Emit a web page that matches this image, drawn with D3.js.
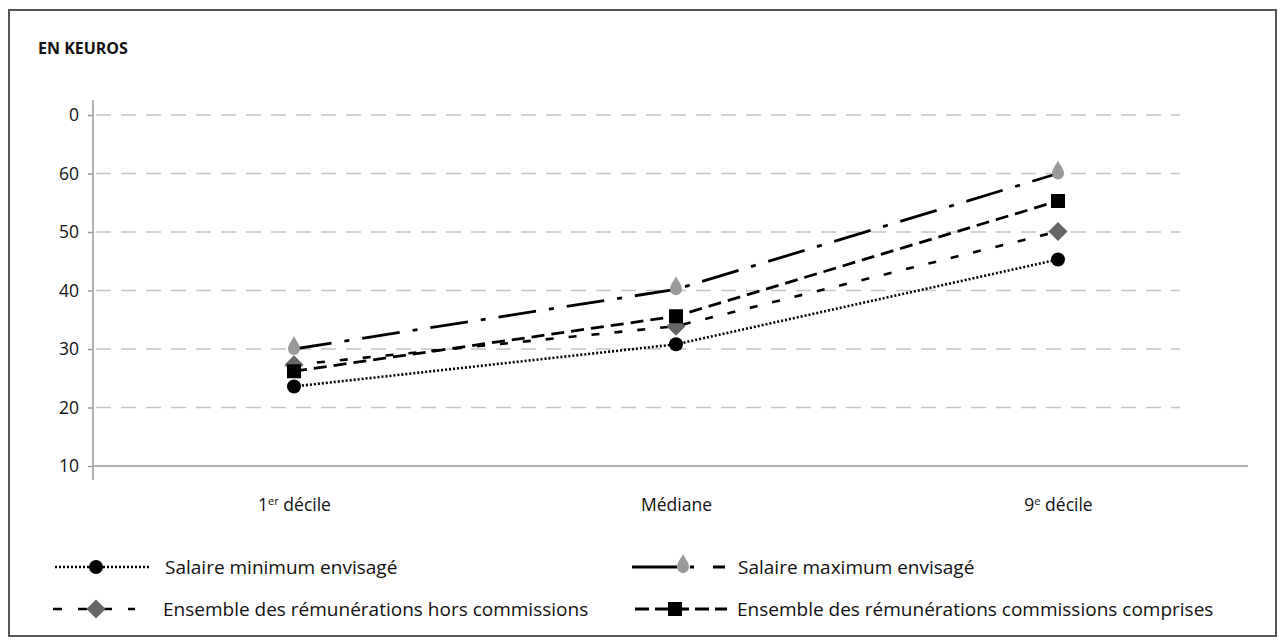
<!DOCTYPE html>
<html>
<head>
<meta charset="utf-8">
<script src="https://cdn.jsdelivr.net/npm/d3@7"></script>
<style>
  html, body { margin: 0; padding: 0; background: #fff; }
  svg { display: block; font-family: "Open Sans", Lato, sans-serif; }
</style>
</head>
<body>
<svg id="chart" width="1285" height="640"></svg>
<script>
// ---- data ----
const categories = ["1er décile", "Médiane", "9e décile"];
const catBase = ["1", "Médiane", "9"];
const catSup = ["er", "", "e"];
const catTail = [" décile", "", " décile"];

const yTicks = [10, 20, 30, 40, 50, 60, 70];
const yTickLabels = ["10", "20", "30", "40", "50", "60", "0"];

const salaireMin = [23.6, 30.8, 45.3];
const salaireMax = [30.0, 40.2, 60.0];
const horsCommissions = [27.3, 33.9, 50.1];
const commissionsComprises = [26.2, 35.6, 55.3];

const seriesNames = [
  "Salaire minimum envisagé",
  "Salaire maximum envisagé",
  "Ensemble des rémunérations hors commissions",
  "Ensemble des rémunérations commissions comprises"
];

// ---- setup ----
const svg = d3.select("#chart");
const FONT = "'Open Sans', Lato, sans-serif";
const TXT = "#111";

// frame
svg.append("rect").attr("x", 9).attr("y", 10).attr("width", 1267).attr("height", 626)
  .attr("fill", "#fff").attr("stroke", "#555").attr("stroke-width", 2);

svg.append("text").attr("x", 38).attr("y", 54).text("EN KEUROS")
  .attr("font-size", 16).attr("font-weight", "bold").attr("fill", TXT);

const x = d3.scalePoint().domain(categories).range([294, 1058]);
const y = d3.scaleLinear().domain([10, 70]).range([466, 115]);

const axisX0 = 93, axisX1 = 1248;

// gridlines
svg.append("g").selectAll("line").data(yTicks.filter(d => d !== 10)).join("line")
  .attr("x1", axisX0).attr("x2", 1180)
  .attr("y1", d => y(d)).attr("y2", d => y(d))
  .attr("stroke", "#c4c4c4").attr("stroke-width", 1.5)
  .attr("stroke-dasharray", "15,10").attr("stroke-dashoffset", -3);

// y axis
const yAxis = svg.append("g").attr("transform", `translate(${axisX0},0)`)
  .call(d3.axisLeft(y).tickValues(yTicks).tickFormat((d, i) => yTickLabels[i]).tickSize(5).tickPadding(9));
yAxis.select(".domain").remove();
yAxis.selectAll(".tick line").attr("stroke", "#999").attr("stroke-width", 1.5);
yAxis.selectAll(".tick text").attr("font-size", 17.5).attr("fill", TXT).attr("font-family", FONT);
svg.append("line").attr("x1", axisX0).attr("x2", axisX0).attr("y1", 100).attr("y2", 480)
  .attr("stroke", "#999").attr("stroke-width", 1.5);

// x axis
const xAxis = svg.append("g").attr("transform", `translate(0,${y(10)})`)
  .call(d3.axisBottom(x).tickSize(0).tickPadding(33));
xAxis.select(".domain").remove();
xAxis.selectAll(".tick text").attr("font-size", 17.5).attr("fill", TXT).attr("font-family", FONT)
  .each(function(d, i) {
    const t = d3.select(this);
    t.text(null);
    t.append("tspan").text(catBase[i]);
    if (catSup[i]) t.append("tspan").text(catSup[i]).attr("font-size", 11).attr("dy", -6);
    if (catTail[i]) t.append("tspan").text(catTail[i]).attr("dy", catSup[i] ? 6 : 0);
  });
svg.append("line").attr("x1", axisX0).attr("x2", axisX1).attr("y1", y(10)).attr("y2", y(10))
  .attr("stroke", "#999").attr("stroke-width", 1.5);

// marker shapes
const dropPath = "M0,-13 C1.5,-9 6,-5 6,0 A6,6 0 1,1 -6,0 C-6,-5 -1.5,-9 0,-13 Z";
function drawMarker(g, type, cx, cy) {
  if (type === "circle") {
    g.append("circle").attr("cx", cx).attr("cy", cy).attr("r", 7).attr("fill", "#000");
  } else if (type === "drop") {
    g.append("path").attr("d", dropPath).attr("transform", `translate(${cx},${cy})`).attr("fill", "#999");
  } else if (type === "diamond") {
    g.append("path").attr("d", "M0,-9.5 L9.5,0 L0,9.5 L-9.5,0 Z")
      .attr("transform", `translate(${cx},${cy})`).attr("fill", "#666");
  } else if (type === "square") {
    g.append("rect").attr("x", cx - 7).attr("y", cy - 7).attr("width", 14).attr("height", 14).attr("fill", "#000");
  }
}

const series = [
  { name: seriesNames[1], values: salaireMax, marker: "drop", dash: "38,13,5,13", width: 2.8 },
  { name: seriesNames[2], values: horsCommissions, marker: "diamond", dash: "8,15", width: 2.6 },
  { name: seriesNames[3], values: commissionsComprises, marker: "square", dash: "13,7", width: 2.8 },
  { name: seriesNames[0], values: salaireMin, marker: "circle", dash: "2,2", width: 2.6 }
];

const line = d3.line().x((d, i) => x(categories[i])).y(d => y(d));
const linesG = svg.append("g");
series.forEach(s => {
  linesG.append("path").datum(s.values).attr("d", line)
    .attr("fill", "none").attr("stroke", "#000").attr("stroke-width", s.width)
    .attr("stroke-dasharray", s.dash);
});
const markersG = svg.append("g");
series.forEach(s => {
  s.values.forEach((v, i) => drawMarker(markersG, s.marker, x(categories[i]), y(v)));
});

// legend
const lg = svg.append("g");
function legendText(xp, yp, txt) {
  lg.append("text").attr("x", xp).attr("y", yp + 6.5).text(txt)
    .attr("font-size", 19).attr("fill", TXT);
}
// row 1 left: minimum
lg.append("line").attr("x1", 55).attr("x2", 150).attr("y1", 567).attr("y2", 567)
  .attr("stroke", "#000").attr("stroke-width", 2.4).attr("stroke-dasharray", "2,2");
drawMarker(lg, "circle", 96, 567);
legendText(165, 567, seriesNames[0]);
// row 1 right: maximum
lg.append("line").attr("x1", 632).attr("x2", 725).attr("y1", 567).attr("y2", 567)
  .attr("stroke", "#000").attr("stroke-width", 2.8).attr("stroke-dasharray", "45,13,4,19,12");
drawMarker(lg, "drop", 683, 567);
legendText(738, 567, seriesNames[1]);
// row 2 left: hors commissions
lg.append("line").attr("x1", 53).attr("x2", 135).attr("y1", 609).attr("y2", 609)
  .attr("stroke", "#000").attr("stroke-width", 2.6).attr("stroke-dasharray", "9,16");
drawMarker(lg, "diamond", 96, 609);
legendText(163, 609, seriesNames[2]);
// row 2 right: commissions comprises
lg.append("line").attr("x1", 635).attr("x2", 727).attr("y1", 609).attr("y2", 609)
  .attr("stroke", "#000").attr("stroke-width", 2.8).attr("stroke-dasharray", "14,6");
drawMarker(lg, "square", 675, 609);
legendText(737, 609, seriesNames[3]);
</script>
</body>
</html>
